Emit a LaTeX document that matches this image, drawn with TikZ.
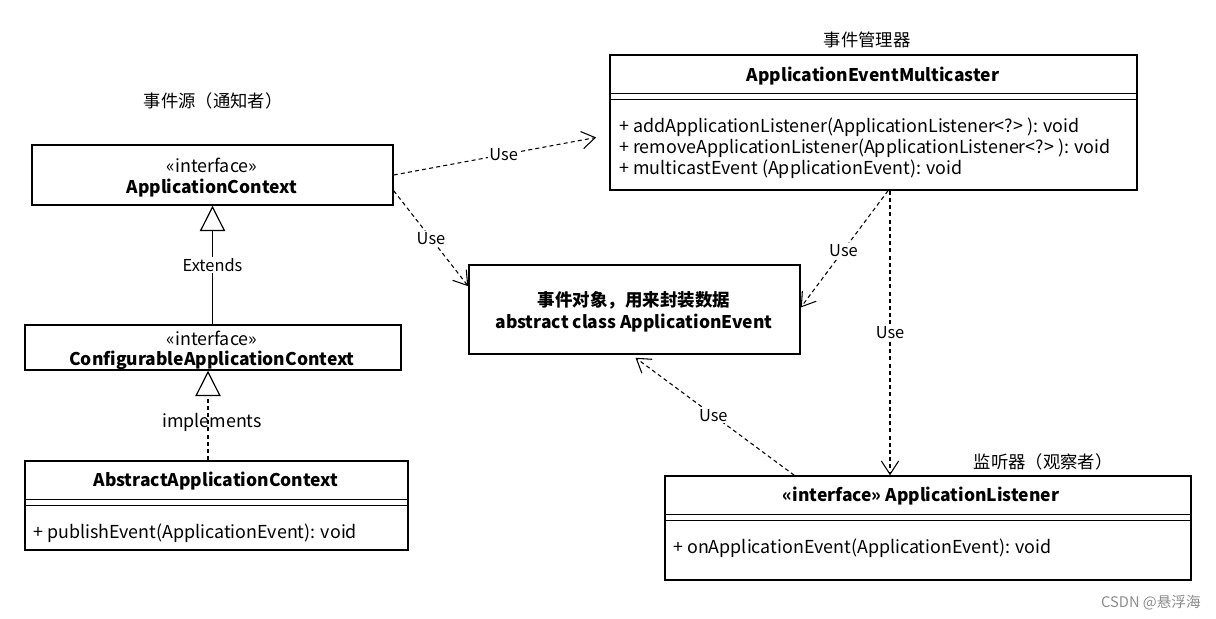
\documentclass[tikz,border=0pt]{standalone}
\usepackage{fontspec}
\setmainfont{Noto Sans CJK SC}
\usetikzlibrary{arrows.meta,calc}
\newcommand{\regf}{\fontsize{13.4}{16}\selectfont}
\newcommand{\boldf}{\fontsize{13.1}{16}\selectfont\bfseries}
\begin{document}
\begin{tikzpicture}[x=0.75pt,y=-0.75pt,
  font=\fontsize{12.3}{15.75}\selectfont,
  umlbox/.style={draw, line width=1.1pt, inner sep=0pt},
  txt/.style={inner sep=0pt, anchor=base, font=\regf},
  btxt/.style={inner sep=0pt, anchor=base, font=\boldf},
  ltxt/.style={inner sep=0pt, anchor=base west, font=\regf},
  sep/.style={line width=1.1pt},
  dep/.style={line width=0.8pt, dash pattern=on 3pt off 2.4pt, -{Straight Barb[length=10pt,width=13pt,line width=0.8pt]}},
  lbl/.style={fill=white, inner sep=1.2pt},
  gen/.style={line width=0.9pt, -{Triangle[open,length=19pt,width=19pt,line width=0.9pt]}}
]
\useasboundingbox (0,0) rectangle (1216,618);

% boxes
\node[umlbox, minimum width=270.75pt, minimum height=45pt] (ac) at (212.5,175) {};
\node[umlbox, minimum width=282pt, minimum height=33.75pt] (conf) at (213,347.5) {};
\node[umlbox, minimum width=287.25pt, minimum height=66.75pt] (abs) at (216.5,505.5) {};
\node[umlbox, minimum width=395.25pt, minimum height=101.25pt] (multi) at (873.5,122.5) {};
\node[umlbox, minimum width=248.25pt, minimum height=66.75pt] (event) at (634.5,309.5) {};
\node[umlbox, minimum width=394.5pt, minimum height=78pt] (lis) at (928,528) {};

% compartment separators
\draw[sep] ($(abs.north west)+(0,39)$) -- ($(abs.north east)+(0,39)$);
\draw[sep] ($(abs.north west)+(0,45)$) -- ($(abs.north east)+(0,45)$);
\draw[sep] ($(multi.north west)+(0,39)$) -- ($(multi.north east)+(0,39)$);
\draw[sep] ($(multi.north west)+(0,45)$) -- ($(multi.north east)+(0,45)$);
\draw[sep] ($(lis.north west)+(0,39)$) -- ($(lis.north east)+(0,39)$);
\draw[sep] ($(lis.north west)+(0,45)$) -- ($(lis.north east)+(0,45)$);

% texts
\node[txt] (t1) at (212,172) {«interface»};
\node[btxt] (t2) at (212,193) {ApplicationContext};
\node[txt] (t3) at (212,345) {«interface»};
\node[btxt] (t4) at (212,365) {ConfigurableApplicationContext};
\node[btxt] (t5) at (216,486) {AbstractApplicationContext};
\node[ltxt] (t6) at (33,538) {+ publishEvent(ApplicationEvent): void};
\node[btxt] (t7) at (873,81) {ApplicationEventMulticaster};
\node[ltxt] (t8) at (619,132) {+ addApplicationListener(ApplicationListener<?> ): void};
\node[ltxt] (t9) at (619,153) {+ removeApplicationListener(ApplicationListener<?> ): void};
\node[ltxt] (t10) at (619,174) {+ multicastEvent (ApplicationEvent): void};
\node[btxt] (t11) at (634,306) {事件对象，用来封装数据};
\node[btxt] (t12) at (634,328) {abstract class ApplicationEvent};
\node[btxt] (t13) at (921,501) {«interface» ApplicationListener};
\node[ltxt] (t14) at (673,553) {+ onApplicationEvent(ApplicationEvent): void};

% titles
\node[inner sep=0pt, anchor=base, font=\fontsize{13}{15}\selectfont] (s1) at (213,107) {事件源（通知者）};
\node[inner sep=0pt, anchor=base, font=\fontsize{13}{15}\selectfont] (s2) at (867,46) {事件管理器};
\node[inner sep=0pt, anchor=base, font=\fontsize{13}{15}\selectfont] (s3) at (1043,468) {监听器（观察者）};
\node[inner sep=0pt, anchor=base east, text=black!45, font=\fontsize{11}{13}\selectfont] (wm) at (1201,607) {CSDN @悬浮海};

% connectors
\draw[dep, shorten >=10pt] (ac.east) -- node[lbl, pos=0.51] {Use} ($(multi.west)+(0,12.5)$);
\draw[dep] ($(ac.south east)+(0,-15)$) -- node[lbl, pos=0.5] {Use} ($(event.north west)+(0,22)$);
\draw[gen] (conf.north -| ac.south) -- node[lbl, pos=0.5] {Extends} (ac.south);
\coordinate (imp) at ($(abs.north)+(-8.5,0)$);
\draw[gen, dash pattern=on 3pt off 2.4pt] (imp) -- node[inner sep=0pt, pos=0.42, xshift=3pt, font=\regf] {implements} (imp |- conf.south);
\draw[dep] ($(multi.south)+(14.5,0)$) -- node[lbl, pos=0.51] {Use} ($(event.east)+(0,-2)$);
\coordinate (mu) at ($(multi.south)+(16.5,0)$);
\draw[dep] (mu) -- node[lbl, pos=0.5] {Use} (mu |- lis.north);
\draw[dep] ($(lis.north west)+(130,0)$) -- node[lbl, pos=0.51] {Use} ($(event.south)+(1,3)$);
\end{tikzpicture}
\end{document}
